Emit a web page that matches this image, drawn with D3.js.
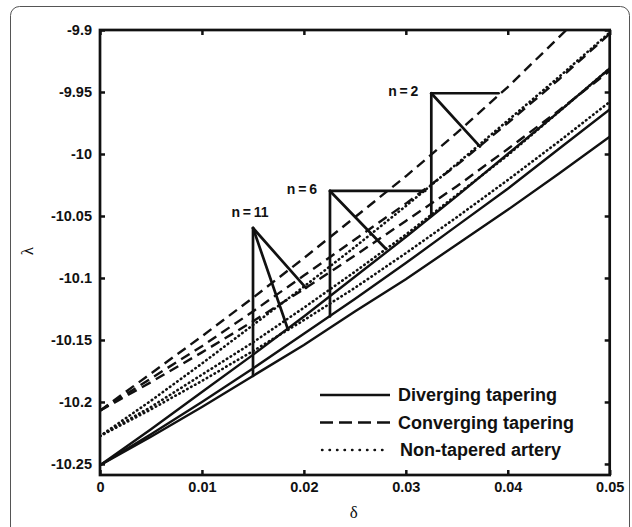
<!DOCTYPE html>
<html>
<head>
<meta charset="utf-8">
<script src="https://cdn.jsdelivr.net/npm/d3@7"></script>
<style>
  body { margin: 0; background: #fff; }
  svg { display: block; }
  .tick text { font-family: "Liberation Sans", Arial, sans-serif; font-weight: bold; font-size: 14.5px; fill: #111; }
</style>
</head>
<body>
<div id="chart"></div>
<script>
// ------------------------------ DATA ------------------------------
var deltaValues = [0, 0.005, 0.01, 0.015, 0.02, 0.025, 0.03, 0.035, 0.04, 0.045, 0.05];

// diverging tapering (solid)
var divergingN2  = [-10.251, -10.222, -10.192, -10.162, -10.131, -10.099, -10.067, -10.034, -10.000, -9.966, -9.931];
var divergingN6  = [-10.251, -10.226, -10.200, -10.173, -10.145, -10.117, -10.088, -10.058, -10.028, -9.996, -9.964];
var divergingN11 = [-10.251, -10.228, -10.204, -10.179, -10.154, -10.127, -10.101, -10.073, -10.045, -10.016, -9.986];

// converging tapering (dashed)
var convergingN2  = [-10.207, -10.177, -10.147, -10.116, -10.084, -10.051, -10.018, -9.983, -9.946, -9.906, -9.866];
var convergingN6  = [-10.207, -10.181, -10.155, -10.127, -10.098, -10.069, -10.040, -10.009, -9.975, -9.940, -9.903];
var convergingN11 = [-10.207, -10.184, -10.160, -10.135, -10.109, -10.082, -10.054, -10.026, -9.996, -9.965, -9.933];

// non-tapered artery (dotted)
var nonTaperedN2  = [-10.2275, -10.199, -10.169, -10.138, -10.107, -10.075, -10.042, -10.008, -9.973, -9.938, -9.902];
var nonTaperedN6  = [-10.2275, -10.204, -10.178, -10.152, -10.124, -10.095, -10.065, -10.033, -10.001, -9.966, -9.931];
var nonTaperedN11 = [-10.2275, -10.206, -10.183, -10.159, -10.134, -10.108, -10.080, -10.051, -10.021, -9.990, -9.958];

var xTicks = [0, 0.01, 0.02, 0.03, 0.04, 0.05];
var xTickLabels = ["0", "0.01", "0.02", "0.03", "0.04", "0.05"];
var yTicks = [-10.25, -10.2, -10.15, -10.1, -10.05, -10, -9.95, -9.9];
var yTickLabels = ["-10.25", "-10.2", "-10.15", "-10.1", "-10.05", "-10", "-9.95", "-9.9"];

var legendLabels = ["Diverging tapering", "Converging tapering", "Non-tapered artery"];

// annotation: label, apex [delta, lambda], pointer ends [delta, lambda]
var annotationLabels = ["n=2", "n=6", "n=11"];
var annotationApex = [[0.0325, -9.951], [0.02256, -10.0298], [0.01501, -10.0597]];
var annotationTargets = [
    [[0.0391, -9.951], [0.03728, -9.994], [0.0325, -10.050]],
    [[0.0319, -10.0298], [0.02806, -10.0766], [0.02256, -10.131]],
    [[0.0202, -10.108], [0.01844, -10.1416], [0.01501, -10.179]]
];

// ------------------------------ PLOTTING CONFIG ------------------------------
var width = 632,
    height = 527,
    plotLeft = 100,
    plotRight = 609.7,
    plotTop = 30,
    plotBottom = 475,
    ink = "#111",
    fontFamily = "'Liberation Sans', Arial, sans-serif";

var dashStyles = { solid: null, dashed: "10,6", dotted: "0.5,4" };

var series = [
    { style: "solid", values: divergingN2 },
    { style: "solid", values: divergingN6 },
    { style: "solid", values: divergingN11 },
    { style: "dashed", values: convergingN2 },
    { style: "dashed", values: convergingN6 },
    { style: "dashed", values: convergingN11 },
    { style: "dotted", values: nonTaperedN2 },
    { style: "dotted", values: nonTaperedN6 },
    { style: "dotted", values: nonTaperedN11 }
];
var legendStyles = ["solid", "dashed", "dotted"];

// ------------------------------ MAIN ------------------------------
var svg = d3.select("#chart")
    .append("svg")
    .attr("width", width)
    .attr("height", height);

// outer rounded frame
svg.append("rect")
    .attr("x", 10.5)
    .attr("y", 6.5)
    .attr("width", 619)
    .attr("height", 560)
    .attr("rx", 9)
    .attr("fill", "none")
    .attr("stroke", "#555")
    .attr("stroke-width", 1);

var x = d3.scaleLinear().domain([0, 0.05]).range([plotLeft, plotRight]);
var y = d3.scaleLinear().domain([-10.2589, -9.9]).range([plotBottom, plotTop]);

svg.append("clipPath")
    .attr("id", "plot-clip")
    .append("rect")
    .attr("x", plotLeft)
    .attr("y", plotTop)
    .attr("width", plotRight - plotLeft)
    .attr("height", plotBottom - plotTop);

var line = d3.line()
    .x(function (d, i) { return x(deltaValues[i]); })
    .y(function (d) { return y(d); });

svg.append("g")
    .attr("clip-path", "url(#plot-clip)")
    .selectAll("path.curve")
    .data(series)
    .enter()
    .append("path")
    .attr("class", "curve")
    .attr("d", function (d) { return line(d.values); })
    .attr("fill", "none")
    .attr("stroke", ink)
    .attr("stroke-width", function (d) { return d.style === "dotted" ? 2.6 : 2.4; })
    .attr("stroke-linecap", function (d) { return d.style === "dotted" ? "round" : "butt"; })
    .attr("stroke-dasharray", function (d) { return dashStyles[d.style]; });

// -------------------------------- ANNOTATIONS --------------------------------
var notes = svg.selectAll("g.note")
    .data(annotationLabels)
    .enter()
    .append("g")
    .attr("class", "note");

notes.selectAll("line")
    .data(function (d, i) { return annotationTargets[i].map(function (t) { return { apex: annotationApex[i], end: t }; }); })
    .enter()
    .append("line")
    .attr("x1", function (d) { return x(d.apex[0]); })
    .attr("y1", function (d) { return y(d.apex[1]); })
    .attr("x2", function (d) { return x(d.end[0]); })
    .attr("y2", function (d) { return y(d.end[1]); })
    .attr("stroke", ink)
    .attr("stroke-width", 2.7)
    .attr("stroke-linecap", "round");

notes.append("text")
    .attr("x", function (d, i) { return i === 2 ? x(annotationApex[i][0]) - 3 : x(annotationApex[i][0]) - 13; })
    .attr("y", function (d, i) { return i === 2 ? y(annotationApex[i][1]) - 11 : y(annotationApex[i][1]) + 3; })
    .attr("text-anchor", function (d, i) { return i === 2 ? "middle" : "end"; })
    .attr("font-family", fontFamily)
    .attr("font-weight", "bold")
    .attr("font-size", "14px")
    .attr("fill", ink)
    .text(function (d) { return d.replace("=", " = ").replace(/ /g, "\u2009"); });

// ------------------------------ AXES ------------------------------
svg.append("g")
    .attr("transform", "translate(0," + plotBottom + ")")
    .call(d3.axisBottom(x).tickValues(xTicks).tickSizeInner(-5).tickSizeOuter(0).tickPadding(7)
        .tickFormat(function (d, i) { return xTickLabels[i]; }));

svg.append("g")
    .attr("transform", "translate(0," + plotTop + ")")
    .call(d3.axisTop(x).tickValues(xTicks).tickSizeInner(-5).tickSizeOuter(0).tickFormat(""));

svg.append("g")
    .attr("transform", "translate(" + plotLeft + ",0)")
    .call(d3.axisLeft(y).tickValues(yTicks).tickSizeInner(-5).tickSizeOuter(0).tickPadding(8)
        .tickFormat(function (d, i) { return yTickLabels[i]; }));

svg.append("g")
    .attr("transform", "translate(" + plotRight + ",0)")
    .call(d3.axisRight(y).tickValues(yTicks).tickSizeInner(-5).tickSizeOuter(0).tickFormat(""));

svg.selectAll(".domain").remove();
svg.selectAll(".tick line").attr("stroke", ink).attr("stroke-width", 2.5);

svg.append("rect")
    .attr("x", plotLeft)
    .attr("y", plotTop)
    .attr("width", plotRight - plotLeft)
    .attr("height", plotBottom - plotTop)
    .attr("fill", "none")
    .attr("stroke", ink)
    .attr("stroke-width", 2.7);

// axis titles
svg.append("text")
    .attr("x", plotLeft + (plotRight - plotLeft) * 0.5 - 1)
    .attr("y", 518)
    .attr("text-anchor", "middle")
    .attr("font-family", "'Liberation Serif', 'Times New Roman', serif")
    .attr("font-size", "17px")
    .attr("fill", ink)
    .text("δ");

svg.append("text")
    .attr("transform", "translate(33," + 251 + ") rotate(-90)")
    .attr("text-anchor", "middle")
    .attr("font-family", "'Liberation Serif', 'Times New Roman', serif")
    .attr("font-size", "17px")
    .attr("fill", ink)
    .text("λ");

// ------------------------------ LEGEND ------------------------------
var legend = svg.selectAll("g.legend")
    .data(legendLabels)
    .enter()
    .append("g")
    .attr("class", "legend")
    .attr("transform", function (d, i) { return "translate(320," + (395 + i * 27.5) + ")"; });

legend.append("line")
    .attr("x1", function (d, i) { return legendStyles[i] === "dotted" ? 2 : 0; })
    .attr("x2", function (d, i) { return legendStyles[i] === "dotted" ? 68 : 70; })
    .attr("y1", 0)
    .attr("y2", 0)
    .attr("stroke", ink)
    .attr("stroke-width", function (d, i) { return legendStyles[i] === "dotted" ? 2.4 : 2.6; })
    .attr("stroke-linecap", function (d, i) { return legendStyles[i] === "dotted" ? "round" : "butt"; })
    .attr("stroke-dasharray", function (d, i) { return legendStyles[i] === "dashed" ? "13,6" : (legendStyles[i] === "dotted" ? "0.5,7" : null); });

legend.append("text")
    .attr("x", function (d, i) { return i === 2 ? 80 : 78; })
    .attr("y", 0)
    .attr("dy", "0.36em")
    .attr("font-family", fontFamily)
    .attr("font-weight", "bold")
    .attr("font-size", "18px")
    .attr("fill", ink)
    .text(function (d) { return d; });
</script>
</body>
</html>
